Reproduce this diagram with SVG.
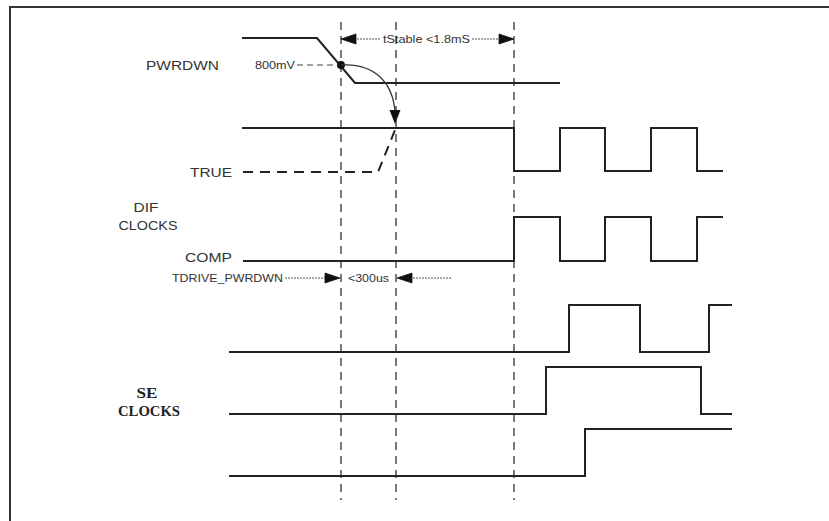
<svg xmlns="http://www.w3.org/2000/svg" width="829" height="521" viewBox="0 0 829 521">
<defs>
<style>
.sig{fill:none;stroke:#222;stroke-width:2;stroke-linejoin:miter}
.grid{fill:none;stroke:#333;stroke-width:1.3;stroke-dasharray:8 6}
.lbl{font-family:"Liberation Sans",Arial,sans-serif;font-size:13px;fill:#333}
.sm{font-family:"Liberation Sans",Arial,sans-serif;font-size:11px;fill:#333}
.ser{font-family:"Liberation Serif","Times New Roman",serif;font-size:14px;font-weight:bold;fill:#222}
.dim{fill:none;stroke:#555;stroke-width:1;stroke-dasharray:2 1}
</style>
<path id="hd" d="M0,0 L-15,-5 L-15,5 Z"/>
</defs>
<rect width="829" height="521" fill="#fff"/>
<path d="M10,521 V7 H829" fill="none" stroke="#333" stroke-width="2"/>

<g id="gridlines">
<line class="grid" x1="341" y1="22" x2="341" y2="500"/>
<line class="grid" x1="396" y1="22" x2="396" y2="500"/>
<line class="grid" x1="514" y1="22" x2="514" y2="500"/>
</g>

<g id="pwrdwn">
<text class="lbl" x="146" y="70" textLength="73" lengthAdjust="spacingAndGlyphs">PWRDWN</text>
<path class="sig" d="M242,38 H317 L355,83 H560"/>
<text x="255" y="69" font-family="Liberation Sans,Arial,sans-serif" font-size="10" fill="#333" textLength="40" lengthAdjust="spacingAndGlyphs">800mV</text>
<line x1="297" y1="65" x2="337" y2="65" stroke="#444" stroke-width="1" stroke-dasharray="6 4"/>
<circle cx="341" cy="65" r="4" fill="#111"/>
</g>

<g id="dif-true">
<text class="lbl" x="190" y="177" textLength="42" lengthAdjust="spacingAndGlyphs">TRUE</text>
<path class="sig" d="M242,128 H514 V171 H560 V128 H605 V171 H651 V128 H697 V171 H723"/>
<path d="M243,172 H378 L395,130" fill="none" stroke="#222" stroke-width="2" stroke-dasharray="10 7"/>
</g>

<g id="dif-label">
<text class="lbl" x="146" y="212" text-anchor="middle" textLength="25" lengthAdjust="spacingAndGlyphs">DIF</text>
<text class="lbl" x="148" y="230" text-anchor="middle" textLength="59" lengthAdjust="spacingAndGlyphs">CLOCKS</text>
</g>

<g id="dif-comp">
<text class="lbl" x="185" y="262" textLength="47" lengthAdjust="spacingAndGlyphs">COMP</text>
<path class="sig" d="M243,261 H514 V217 H560 V261 H605 V217 H651 V261 H697 V217 H723"/>
</g>

<g id="se-label">
<text class="ser" x="147" y="398" text-anchor="middle" textLength="21" lengthAdjust="spacingAndGlyphs">SE</text>
<text class="ser" x="149" y="416" text-anchor="middle" textLength="62" lengthAdjust="spacingAndGlyphs">CLOCKS</text>
</g>

<g id="se1"><path class="sig" d="M229,352 H569 V305 H640 V352 H709 V305 H732"/></g>
<g id="se2"><path class="sig" d="M229,414 H546 V367 H701 V414 H732"/></g>
<g id="se3"><path class="sig" d="M229,476 H585 V429 H732"/></g>

<g id="connectors" fill="#111">
<path d="M341,65 C376,63 393,84 395,112" fill="none" stroke="#333" stroke-width="1.3"/>
<path d="M389.5,110 L400.5,110 L395,124 Z" fill="#111"/>
<line class="dim" x1="380" y1="39" x2="352" y2="39"/>
<use href="#hd" transform="translate(341,39) rotate(180)" fill="#111" stroke="#111" stroke-width="0.8"/>
<line class="dim" x1="472" y1="39" x2="503" y2="39"/>
<use href="#hd" transform="translate(514,39)" fill="#111" stroke="#111" stroke-width="0.8"/>
<text class="sm" x="383" y="43" textLength="87" lengthAdjust="spacingAndGlyphs">tStable &lt;1.8mS</text>
<text class="sm" x="172" y="282" textLength="111" lengthAdjust="spacingAndGlyphs">TDRIVE_PWRDWN</text>
<line class="dim" x1="285" y1="278" x2="330" y2="278"/>
<use href="#hd" transform="translate(340,278)" fill="#111" stroke="#111" stroke-width="0.8"/>
<line class="dim" x1="451" y1="278" x2="407" y2="278"/>
<use href="#hd" transform="translate(397,278) rotate(180)" fill="#111" stroke="#111" stroke-width="0.8"/>
<text class="sm" x="348" y="282" textLength="41" lengthAdjust="spacingAndGlyphs">&lt;300us</text>
</g>
</svg>
